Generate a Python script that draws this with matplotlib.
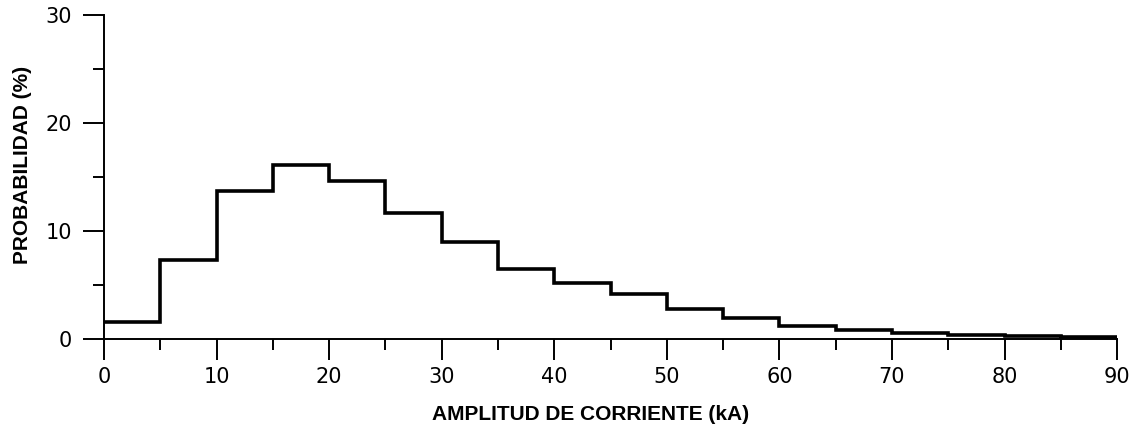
import numpy as np
import matplotlib.pyplot as plt
from matplotlib.ticker import MultipleLocator

# Límites de las clases de amplitud (kA)
bordes = [0, 5, 10, 15, 20, 25, 30, 35, 40, 45, 50, 55, 60, 65, 70, 75, 80, 85, 90]
# Probabilidad de cada clase (%)
probabilidad = [1.6, 7.3, 13.7, 16.1, 14.6, 11.7, 9.0, 6.5, 5.2, 4.2,
                2.8, 1.9, 1.2, 0.8, 0.55, 0.4, 0.3, 0.15]

xticks = [0, 10, 20, 30, 40, 50, 60, 70, 80, 90]
yticks = [0, 10, 20, 30]

fig = plt.figure(figsize=(11.37, 4.28), dpi=100)
ax = fig.add_axes([0.0915, 0.208, 0.891, 0.757])

ax.stairs(probabilidad, bordes, color="black", linewidth=2.6, baseline=None)

ax.set_xlim(0, 90)
ax.set_ylim(0, 30)
ax.spines["top"].set_visible(False)
ax.spines["right"].set_visible(False)
for s in ["left", "bottom"]:
    ax.spines[s].set_linewidth(1.4)

ax.set_xticks(xticks)
ax.set_yticks(yticks)
ax.xaxis.set_minor_locator(MultipleLocator(5))
ax.yaxis.set_minor_locator(MultipleLocator(5))
ax.tick_params(which="major", length=15, width=1.4, labelsize=15, pad=8)
ax.tick_params(which="minor", length=8, width=1.4)
ax.tick_params(axis="x", pad=5)

ax.set_xlabel("AMPLITUD DE CORRIENTE (kA)", fontsize=15, fontweight="bold",
              family="Liberation Sans")
ax.set_ylabel("PROBABILIDAD (%)", fontsize=15, fontweight="bold",
              family="Liberation Sans")
ax.xaxis.set_label_coords(0.48, -0.204)
ax.yaxis.set_label_coords(-0.071, 0.537)

fig.savefig("out.png", dpi=100)
